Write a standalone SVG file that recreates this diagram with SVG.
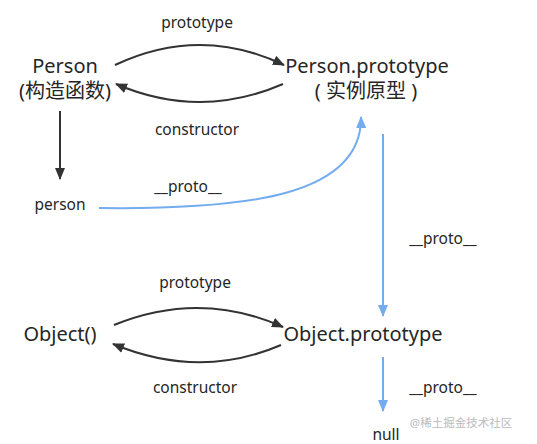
<svg xmlns="http://www.w3.org/2000/svg" width="537" height="444" viewBox="0 0 537 444">
<style>
text{font-family:"Noto Sans","Noto Sans CJK SC",sans-serif;fill:#262626}
.big{font-size:20px}
.sm{font-size:15.5px}
.dk{fill:none;stroke:#333;stroke-width:2}
.bl{fill:none;stroke:#74acef;stroke-width:2}
.wm{font-size:11.5px;fill:#bbb}
</style>
<defs>
<marker id="ad" viewBox="0 0 12 10" refX="11" refY="5" markerWidth="12" markerHeight="10" markerUnits="userSpaceOnUse" orient="auto"><path d="M0,0 L12,5 L0,10 Z" fill="#333"/></marker>
<marker id="ab" viewBox="0 0 12 10" refX="11" refY="5" markerWidth="12" markerHeight="10" markerUnits="userSpaceOnUse" orient="auto"><path d="M0,0 L12,5 L0,10 Z" fill="#74acef"/></marker>
</defs>
<rect width="537" height="444" fill="#fff"/>
<g id="connectors">
<path class="dk" d="M115,65 Q200,25 284,65" marker-end="url(#ad)"/>
<path class="dk" d="M283,84 Q200,120 116,84" marker-end="url(#ad)"/>
<path class="dk" d="M60,111 L60,179" marker-end="url(#ad)"/>
<path class="bl" d="M99,208 C250,210 362,195 361,117" marker-end="url(#ab)"/>
<path class="bl" d="M383,134 L383,316" marker-end="url(#ab)"/>
<path class="dk" d="M114,325 Q200,290 283,327" marker-end="url(#ad)"/>
<path class="dk" d="M281,345 Q200,380 113,344" marker-end="url(#ad)"/>
<path class="bl" d="M383,357 L383,411" marker-end="url(#ab)"/>
<text class="sm" x="197" y="28" text-anchor="middle">prototype</text>
<text class="sm" x="197" y="135" text-anchor="middle">constructor</text>
<text class="sm" x="188" y="192" text-anchor="middle">__proto__</text>
<text class="sm" x="443" y="244" text-anchor="middle">__proto__</text>
<text class="sm" x="195" y="288" text-anchor="middle">prototype</text>
<text class="sm" x="195" y="393" text-anchor="middle">constructor</text>
<text class="sm" x="443" y="393" text-anchor="middle">__proto__</text>
</g>
<g id="person-ctor"><text class="big" x="65" y="73" text-anchor="middle">Person</text><text class="big" x="65" y="98" text-anchor="middle">(构造函数)</text></g>
<g id="person-proto"><text class="big" x="367" y="73" text-anchor="middle">Person.prototype</text><text class="big" x="366" y="98" text-anchor="middle">( 实例原型 )</text></g>
<g id="person"><text class="sm" x="60" y="210" text-anchor="middle">person</text></g>
<g id="object-ctor"><text class="big" x="60" y="341" text-anchor="middle">Object()</text></g>
<g id="object-proto"><text class="big" x="363" y="341" text-anchor="middle">Object.prototype</text></g>
<g id="null"><text class="sm" x="386" y="440" text-anchor="middle">null</text></g>
<text class="wm" x="461" y="427" text-anchor="middle">@稀土掘金技术社区</text>
</svg>
